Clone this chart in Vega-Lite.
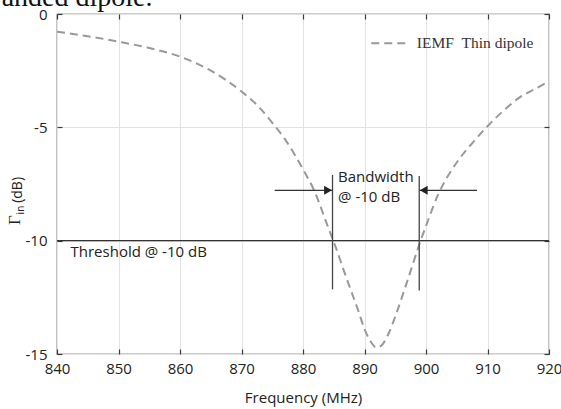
{
  "$schema": "https://vega.github.io/schema/vega-lite/v6.json",
  "width": 492,
  "height": 340,
  "autosize": {"type": "none"},
  "padding": {"left": 57, "top": 14, "right": 12, "bottom": 55},
  "background": "white",
  "config": {
    "view": {"stroke": "#3a3a3a", "strokeWidth": 1.2},
    "axis": {"labelFont": "Open Sans", "titleFont": "Open Sans", "labelColor": "#222", "titleColor": "#222", "labelFontSize": 15, "titleFontSize": 15, "titleFontWeight": "normal", "domain": false, "gridColor": "#e3e3e3", "gridWidth": 1, "tickColor": "#3a3a3a", "tickSize": -5, "tickWidth": 1.2}
  },
  "datasets": {
    "curve": [
      {"f": 840, "db": -0.78}, {"f": 845, "db": -0.98}, {"f": 850, "db": -1.22}, {"f": 855, "db": -1.5},
      {"f": 860, "db": -1.88}, {"f": 865, "db": -2.5}, {"f": 870, "db": -3.42}, {"f": 873, "db": -4.15},
      {"f": 875, "db": -4.8}, {"f": 877, "db": -5.5}, {"f": 880, "db": -6.85}, {"f": 882, "db": -7.9},
      {"f": 884, "db": -9.35}, {"f": 885, "db": -10.05}, {"f": 887, "db": -11.6}, {"f": 889, "db": -13.1},
      {"f": 890, "db": -13.9}, {"f": 891, "db": -14.45}, {"f": 892, "db": -14.72}, {"f": 893, "db": -14.55},
      {"f": 894, "db": -14.05}, {"f": 895, "db": -13.35}, {"f": 897, "db": -11.75}, {"f": 899, "db": -10.1},
      {"f": 900, "db": -9.35}, {"f": 902, "db": -7.95}, {"f": 905, "db": -6.55}, {"f": 908, "db": -5.55},
      {"f": 910, "db": -4.95}, {"f": 913, "db": -4.17}, {"f": 915, "db": -3.72}, {"f": 918, "db": -3.27},
      {"f": 920, "db": -2.97}
    ],
    "vlines": [
      {"f": 884.8, "y1": -7.1, "y2": -12.15},
      {"f": 898.9, "y1": -7.15, "y2": -12.2}
    ],
    "arrows": [
      {"side": "left", "from": 875.4, "to": 884.8, "y": -7.78},
      {"side": "right", "from": 908.3, "to": 898.9, "y": -7.78}
    ],
    "notes": [
      {"f": 885.7, "db": -7.17, "label": "Bandwidth"},
      {"f": 885.7, "db": -8.07, "label": "@ -10 dB"},
      {"f": 842.2, "db": -10.48, "label": "Threshold @ -10 dB"}
    ],
    "legend": [
      {"f1": 891.1, "f2": 897.0, "db": -1.29, "label": "IEMF\u00a0\u00a0Thin dipole", "lx": 898.5}
    ],
    "caption": [{"f": 831.0, "db": 0.36, "label": "anded dipole."}],
    "ytitle": [
      {"part": "gamma", "f": 833.1, "db": -9.09, "label": "Γ"},
      {"part": "sub", "f": 834.2, "db": -8.65, "label": "in"},
      {"part": "unit", "f": 833.6, "db": -7.76, "label": "(dB)"}
    ],
    "thr": [{"db": -10}]
  },
  "resolve": {"axis": {"x": "independent", "y": "independent"}},
  "layer": [
    {
      "data": {"name": "curve"},
      "mark": {"type": "line", "color": "#999999", "strokeWidth": 2, "strokeDash": [8, 5], "interpolate": "monotone"},
      "encoding": {
        "x": {"field": "f", "type": "quantitative", "scale": {"domain": [840, 920], "nice": false},
              "axis": {"values": [840, 850, 860, 870, 880, 890, 900, 910, 920], "title": "Frequency (MHz)", "grid": true, "labelPadding": 12, "titlePadding": 14, "labelFlush": false}},
        "y": {"field": "db", "type": "quantitative", "scale": {"domain": [-15, 0], "nice": false},
              "axis": {"values": [-15, -10, -5, 0], "title": null, "grid": true, "labelPadding": 15, "labelExpr": "'' + datum.value", "labelFlush": false}}
      }
    },
    {
      "data": {"name": "thr"},
      "mark": {"type": "rule", "color": "#333333", "strokeWidth": 1.2},
      "encoding": {
        "y": {"field": "db", "type": "quantitative",
              "axis": {"orient": "right", "values": [-15, -10, -5, 0], "labels": false, "grid": false, "title": null}},
        "x": {"datum": 840, "type": "quantitative",
              "axis": {"orient": "top", "values": [840, 850, 860, 870, 880, 890, 900, 910, 920], "labels": false, "grid": false, "title": null}},
        "x2": {"datum": 920}
      }
    },
    {
      "data": {"name": "vlines"},
      "mark": {"type": "rule", "color": "#444444", "strokeWidth": 1.3},
      "encoding": {
        "x": {"field": "f", "type": "quantitative", "axis": null},
        "y": {"field": "y1", "type": "quantitative", "axis": null},
        "y2": {"field": "y2"}
      }
    },
    {
      "data": {"name": "arrows"},
      "mark": {"type": "rule", "color": "#333333", "strokeWidth": 1.2},
      "encoding": {
        "x": {"field": "from", "type": "quantitative", "axis": null},
        "x2": {"field": "to"},
        "y": {"field": "y", "type": "quantitative", "axis": null}
      }
    },
    {
      "data": {"name": "arrows"},
      "transform": [{"filter": "datum.side === 'left'"}],
      "mark": {"type": "point", "shape": "triangle-right", "filled": true, "color": "#222222", "size": 80, "opacity": 1},
      "encoding": {
        "x": {"field": "to", "type": "quantitative", "axis": null},
        "y": {"field": "y", "type": "quantitative", "axis": null},
        "xOffset": {"value": -4.5}
      }
    },
    {
      "data": {"name": "arrows"},
      "transform": [{"filter": "datum.side === 'right'"}],
      "mark": {"type": "point", "shape": "triangle-left", "filled": true, "color": "#222222", "size": 80, "opacity": 1},
      "encoding": {
        "x": {"field": "to", "type": "quantitative", "axis": null},
        "y": {"field": "y", "type": "quantitative", "axis": null},
        "xOffset": {"value": 4.5}
      }
    },
    {
      "data": {"name": "notes"},
      "mark": {"type": "text", "align": "left", "baseline": "middle", "font": "Open Sans", "fontSize": 15, "color": "#222222"},
      "encoding": {
        "x": {"field": "f", "type": "quantitative", "axis": null},
        "y": {"field": "db", "type": "quantitative", "axis": null},
        "text": {"field": "label"}
      }
    },
    {
      "data": {"name": "legend"},
      "mark": {"type": "rule", "color": "#999999", "strokeWidth": 2, "strokeDash": [8, 5]},
      "encoding": {
        "x": {"field": "f1", "type": "quantitative", "axis": null},
        "x2": {"field": "f2"},
        "y": {"field": "db", "type": "quantitative", "axis": null}
      }
    },
    {
      "data": {"name": "legend"},
      "mark": {"type": "text", "align": "left", "baseline": "middle", "font": "Liberation Serif", "fontSize": 15.5, "color": "#333333"},
      "encoding": {
        "x": {"field": "lx", "type": "quantitative", "axis": null},
        "y": {"field": "db", "type": "quantitative", "axis": null},
        "text": {"field": "label"}
      }
    },
    {
      "data": {"name": "caption"},
      "mark": {"type": "text", "align": "left", "baseline": "alphabetic", "font": "Liberation Serif", "fontSize": 28, "color": "#111111", "clip": false},
      "encoding": {
        "x": {"field": "f", "type": "quantitative", "axis": null},
        "y": {"field": "db", "type": "quantitative", "axis": null},
        "text": {"field": "label"}
      }
    },
    {
      "data": {"name": "ytitle"},
      "transform": [{"filter": "datum.part === 'gamma'"}],
      "mark": {"type": "text", "align": "center", "baseline": "middle", "angle": 270, "font": "Liberation Serif", "fontSize": 17, "color": "#222222"},
      "encoding": {
        "x": {"field": "f", "type": "quantitative", "axis": null},
        "y": {"field": "db", "type": "quantitative", "axis": null},
        "text": {"field": "label"}
      }
    },
    {
      "data": {"name": "ytitle"},
      "transform": [{"filter": "datum.part === 'sub'"}],
      "mark": {"type": "text", "align": "center", "baseline": "middle", "angle": 270, "font": "Open Sans", "fontSize": 10, "color": "#222222"},
      "encoding": {
        "x": {"field": "f", "type": "quantitative", "axis": null},
        "y": {"field": "db", "type": "quantitative", "axis": null},
        "text": {"field": "label"}
      }
    },
    {
      "data": {"name": "ytitle"},
      "transform": [{"filter": "datum.part === 'unit'"}],
      "mark": {"type": "text", "align": "center", "baseline": "middle", "angle": 270, "font": "Open Sans", "fontSize": 14, "color": "#222222"},
      "encoding": {
        "x": {"field": "f", "type": "quantitative", "axis": null},
        "y": {"field": "db", "type": "quantitative", "axis": null},
        "text": {"field": "label"}
      }
    }
  ]
}
